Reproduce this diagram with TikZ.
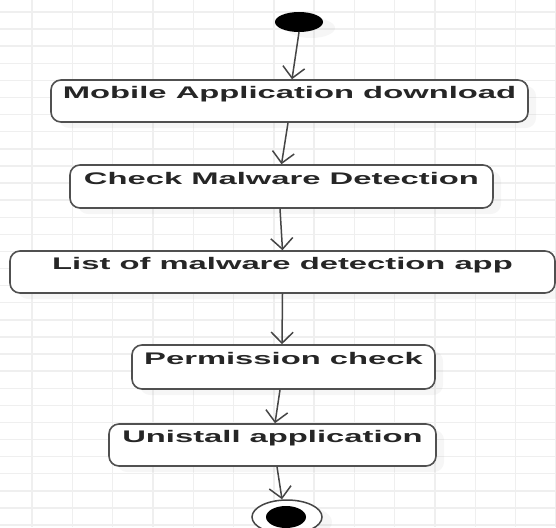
\documentclass[tikz,border=0pt]{standalone}
\usepackage{fontspec}
\setmainfont{Liberation Sans}
\usetikzlibrary{arrows.meta,shapes.geometric,shadows}
\definecolor{gridcol}{HTML}{EFEFEF}
\definecolor{edgecol}{HTML}{505050}
\definecolor{flowcol}{HTML}{454545}
\definecolor{txtcol}{HTML}{262626}
\newcommand{\widetext}[1]{\scalebox{1.95}[1]{\bfseries #1}}
\tikzset{
  gridline/.style={gridcol, line width=1.4pt},
  actbox/.style={draw=edgecol, line width=1.6pt, fill=white, rounded corners=10pt,
    inner xsep=0pt, inner ysep=0pt, text height=12pt, text depth=17pt,
    text=txtcol, font=\fontsize{16.8}{18}\selectfont,
    drop shadow={opacity=0.07, shadow xshift=8pt, shadow yshift=-6pt}},
  startdot/.style={ellipse, fill=black, inner sep=0pt,
    minimum width=48pt, minimum height=20pt,
    drop shadow={opacity=0.07, shadow xshift=12pt, shadow yshift=-6pt}},
  endring/.style={ellipse, draw=flowcol, line width=1.5pt, fill=white, inner sep=0pt,
    minimum width=70pt, minimum height=34pt,
    drop shadow={opacity=0.07, shadow xshift=10pt, shadow yshift=-5pt}},
  enddot/.style={ellipse, fill=black, inner sep=0pt,
    minimum width=40pt, minimum height=22pt},
  flow/.style={draw=flowcol, line width=1.5pt, line cap=round,
    -{Straight Barb[length=11pt, width=22pt, line width=1.5pt]}},
}
\begin{document}
\begin{tikzpicture}[x=1pt, y=-1pt]
  \useasboundingbox (0,0) rectangle (556,527);
  \fill[white] (0,0) rectangle (556,527);
  % background grid
  \foreach \k in {0,...,13} \draw[gridline] ({32+40.3*\k},0) -- ++(0,527);
  \foreach \k in {0,...,30} \draw[gridline] (0,{12+17.1*\k}) -- ++(556,0);

  % start and end markers
  \node[startdot] (init) at (299,22) {};
  \node[endring] (fin) at (287,517) {};
  \node[enddot] (finc) at (286,517) {};

  % activity boxes
  \node[actbox, minimum width=477pt, minimum height=42pt] (b1) at (289.5,101) {\widetext{Mobile Application download}};
  \node[actbox, minimum width=423pt, minimum height=43pt] (b2) at (281.5,186.5) {\widetext{Check Malware Detection}};
  \node[actbox, minimum width=545pt, minimum height=42pt] (b3) at (282.5,272) {\widetext{List of malware detection app}};
  \node[actbox, minimum width=303pt, minimum height=44pt] (b4) at (283.5,367) {\widetext{Permission check}};
  \node[actbox, minimum width=327pt, minimum height=42pt] (b5) at (272.5,445) {\widetext{Unistall application}};

  % control flow
  \draw[flow] (init.south) -- ([xshift=2.5pt]b1.north);
  \draw[flow] ([xshift=-1.5pt]b1.south) -- (b2.north);
  \draw[flow] ([xshift=-1.5pt]b2.south) -- (b3.north);
  \draw[flow] (b3.south) -- ([xshift=-1.5pt]b4.north);
  \draw[flow] ([xshift=-3.5pt]b4.south) -- ([xshift=2.5pt]b5.north);
  \draw[flow] ([xshift=4.5pt]b5.south) -- ([xshift=-5pt]fin.north);
\end{tikzpicture}
\end{document}
